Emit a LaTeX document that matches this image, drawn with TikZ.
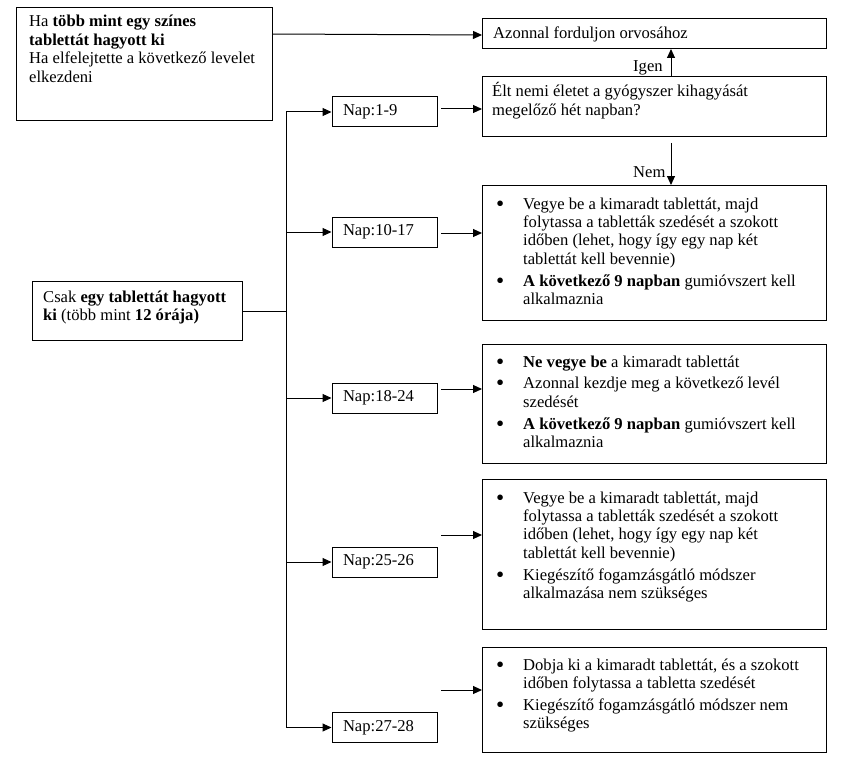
\documentclass[tikz,border=0pt]{standalone}
\usepackage{fontspec}
\usepackage{graphicx}
\setmainfont{Liberation Serif}
\usetikzlibrary{arrows.meta}
\newcommand\bitem[1]{\par\hangindent=27pt\hangafter=1\noindent\makebox[27pt][l]{\raisebox{-2pt}{\scalebox{1.4}{\textbullet}}}#1\par}
\newcommand\boxtxt[2]{\begin{minipage}[t]{#1}\setlength\parskip{3.4pt}\noindent #2\end{minipage}}
\begin{document}
\begin{tikzpicture}[x=1pt,y=-1pt,
  every node/.style={font=\fontsize{16.6}{18.4}\selectfont},
  frame/.style={draw, line width=1pt, inner sep=0pt, anchor=north west},
  txtnode/.style={anchor=base west, inner sep=0pt},
  napbox/.style={draw, line width=1pt, minimum height=30pt, text width=83pt, inner xsep=11pt, inner ysep=0pt, align=left},
  arr/.style={line width=1pt, -{Triangle[length=9pt,width=8pt]}},
  conn/.style={line width=1pt}]
\useasboundingbox (0,0) rectangle (843,765);

% frames
\node[frame, minimum width=256pt, minimum height=113pt] (A) at (16,7) {};
\node[frame, minimum width=344pt, minimum height=30pt] (B) at (482,18) {};
\node[frame, minimum width=344pt, minimum height=60pt] (C) at (482,76) {};
\node[frame, minimum width=344pt, minimum height=135pt] (D) at (482,185) {};
\node[frame, minimum width=344pt, minimum height=119pt] (E) at (482,344) {};
\node[frame, minimum width=344pt, minimum height=150pt] (F) at (482,479) {};
\node[frame, minimum width=344pt, minimum height=105pt] (G) at (482,647) {};
\node[frame, minimum width=210pt, minimum height=59pt] (K) at (32,281) {};

% texts
\node[txtnode] (At) at (29,27) {\boxtxt{240pt}{Ha \textbf{több mint egy színes}\\ \textbf{tablettát hagyott ki}\\ Ha elfelejtette a következő levelet\\ elkezdeni}};
\node[txtnode] (Bt) at (493,39) {Azonnal forduljon orvosához};
\node[txtnode] (Ct) at (492,97) {\boxtxt{330pt}{Élt nemi életet a gyógyszer kihagyását\\ megelőző hét napban?}};
\node[txtnode] (Dt) at (496,209) {\boxtxt{325pt}{%
\bitem{Vegye be a kimaradt tablettát, majd\\ folytassa a tabletták szedését a szokott\\ időben (lehet, hogy így egy nap két\\ tablettát kell bevennie)}
\bitem{\textbf{A következő 9 napban} gumióvszert kell\\ alkalmaznia}}};
\node[txtnode] (Et) at (496,367) {\boxtxt{325pt}{%
\bitem{\textbf{Ne vegye be} a kimaradt tablettát}
\bitem{Azonnal kezdje meg a következő levél\\ szedését}
\bitem{\textbf{A következő 9 napban} gumióvszert kell\\ alkalmaznia}}};
\node[txtnode] (Ft) at (496,503) {\boxtxt{325pt}{%
\bitem{Vegye be a kimaradt tablettát, majd\\ folytassa a tabletták szedését a szokott\\ időben (lehet, hogy így egy nap két\\ tablettát kell bevennie)}
\bitem{Kiegészítő fogamzásgátló módszer\\ alkalmazása nem szükséges}}};
\node[txtnode] (Gt) at (496,670) {\boxtxt{325pt}{%
\bitem{Dobja ki a kimaradt tablettát, és a szokott\\ időben folytassa a tabletta szedését}
\bitem{Kiegészítő fogamzásgátló módszer nem\\ szükséges}}};
\node[txtnode] (Kt) at (43,302) {\boxtxt{195pt}{Csak \textbf{egy tablettát hagyott}\\ \textbf{ki} (több mint \textbf{12 órája)}}};

% day boxes
\node[napbox] (N1) at (384.5,112) {Nap:1-9};
\node[napbox] (N2) at (384.5,232) {Nap:10-17};
\node[napbox] (N3) at (384.5,398) {Nap:18-24};
\node[napbox] (N4) at (384.5,562) {Nap:25-26};
\node[napbox] (N5) at (384.5,727.5) {Nap:27-28};

% labels
\node[txtnode] (igen) at (633,72) {Igen};
\node[txtnode] (nem) at (633,177) {Nem};

% helper coordinates
\coordinate (aout) at (272,34);
\coordinate (ain) at (482,35);
\coordinate (trunk) at (286.5,0);
\coordinate (yn) at (671,0);
\coordinate (nemstart) at (671,143);
\coordinate (s1) at (441,109);
\coordinate (s2) at (441,233);
\coordinate (s3) at (441,389);
\coordinate (s4) at (441,535);
\coordinate (s5) at (441,690);

% connectors
\draw[arr] (aout) -- (ain);
\draw[arr] (C.north -| yn) -- (B.south -| yn);
\draw[arr] (nemstart) -- (D.north -| nemstart);
\draw[conn] (K.east) -- (K.east -| trunk);
\draw[arr] (N3.west -| trunk) -- (N1.west -| trunk) -- (N1.west);
\draw[arr] (N3.west -| trunk) -- (N5.west -| trunk) -- (N5.west);
\draw[arr] (N2.west -| trunk) -- (N2.west);
\draw[arr] (N3.west -| trunk) -- (N3.west);
\draw[arr] (N4.west -| trunk) -- (N4.west);
\draw[arr] (s1) -- (C.west |- s1);
\draw[arr] (s2) -- (D.west |- s2);
\draw[arr] (s3) -- (E.west |- s3);
\draw[arr] (s4) -- (F.west |- s4);
\draw[arr] (s5) -- (G.west |- s5);
\end{tikzpicture}
\end{document}
